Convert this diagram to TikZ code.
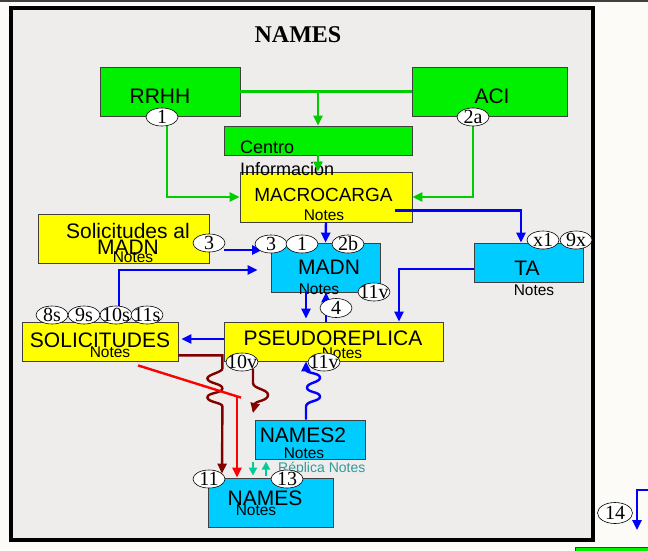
\documentclass[tikz,border=0pt]{standalone}
\usepackage{fontspec}
\setmainfont{Liberation Serif}
\newfontfamily\arialfont{Liberation Sans}
\usetikzlibrary{arrows.meta,calc,shapes.geometric}

\definecolor{pagebg}{RGB}{252,251,247}
\definecolor{framebg}{RGB}{238,237,235}
\definecolor{boxline}{RGB}{64,64,64}
\definecolor{boxgreen}{RGB}{0,240,0}
\definecolor{boxyellow}{RGB}{255,255,0}
\definecolor{boxcyan}{RGB}{0,204,255}
\definecolor{linegreen}{RGB}{0,204,0}
\definecolor{lineblue}{RGB}{0,0,255}
\definecolor{linedark}{RGB}{128,0,0}
\definecolor{linered}{RGB}{255,0,0}
\definecolor{lineteal}{RGB}{0,204,153}
\definecolor{replicatxt}{RGB}{51,153,153}

\tikzset{
  box/.style={draw=boxline, line width=0.8pt, inner sep=0},
  boxtxt/.style={font=\arialfont\fontsize{21}{22}\selectfont, inner sep=0},
  notes/.style={font=\arialfont\fontsize{15.5}{16}\selectfont, inner sep=0},
  numtxt/.style={font=\fontsize{20}{20}\selectfont, inner sep=0},
  numb/.style={ellipse, draw=black, line width=0.6pt, fill=white,
    minimum width=32, minimum height=18, inner sep=0, label={[numtxt]center:#1}},
  glink/.style={draw=linegreen, line width=2.4pt},
  blink/.style={draw=lineblue, line width=2.4pt},
  dlink/.style={draw=linedark, line width=2.4pt},
  rlink/.style={draw=linered, line width=2.4pt},
  tlink/.style={draw=lineteal, line width=2.2pt, -{Triangle[length=8pt,width=8pt]}}
}

\begin{document}
\begin{tikzpicture}[x=1pt, y=-1pt, >={Triangle[length=10pt,width=9pt]}]
    % Page and frame
    \useasboundingbox (0,0) rectangle (648,550);
    \fill[pagebg] (0,0) rectangle (648,550);
    \draw[line width=1.5pt, black!75] (0,0.75) -- (648,0.75);
    \draw[line width=4pt, fill=framebg] (10.5,7.5) rectangle (593,540);
    \begin{scope}
        \clip (0,0) rectangle (648,550);
        \node[box, fill=boxgreen, minimum width=80, minimum height=20, anchor=north west] (lower) at (575,547) {};
    \end{scope}

    % Title
    \node[font=\bfseries\fontsize{24}{24}\selectfont] (title) at (298,35) {NAMES};

    % Draw boxes
    \node[box, fill=boxgreen, minimum width=140, minimum height=49] (rrhh) at (170,91.5) {};
    \node[box, fill=boxgreen, minimum width=155, minimum height=49] (aci) at (489.5,91.5) {};
    \node[box, fill=boxgreen, minimum width=188, minimum height=29] (centro) at (318,140.5) {};
    \node[box, fill=boxyellow, minimum width=172, minimum height=50] (macro) at (326,197) {};
    \node[box, fill=boxyellow, minimum width=171, minimum height=49] (solmadn) at (123.5,238.5) {};
    \node[box, fill=boxcyan, minimum width=109, minimum height=49] (madn) at (325.5,267.5) {};
    \node[box, fill=boxcyan, minimum width=109, minimum height=39] (ta) at (528.5,262.5) {};
    \node[box, fill=boxyellow, minimum width=219, minimum height=39] (pseudo) at (333.5,341.5) {};
    \node[box, fill=boxyellow, minimum width=156, minimum height=39] (solic) at (100,341.5) {};
    \node[box, fill=boxcyan, minimum width=110, minimum height=39] (names2) at (310,439.5) {};
    \node[box, fill=boxcyan, minimum width=125, minimum height=49] (names) at (270.5,502.5) {};

    % Box texts
    \node[boxtxt] (rrhh-t) at (160,96) {RRHH};
    \node[boxtxt] (aci-t) at (492,96) {ACI};
    \node[font=\arialfont\fontsize{18}{22}\selectfont, align=left, anchor=west, inner sep=0] (centro-t) at (240,158) {Centro\\Información};
    \node[font=\arialfont\fontsize{19}{20}\selectfont, inner sep=0] (macro-t) at (323.5,195) {MACROCARGA};
    \node[notes] (macro-n) at (324,215) {Notes};
    \node[font=\arialfont\fontsize{21}{14}\selectfont, align=center, inner sep=0] (solmadn-t) at (128,239) {Solicitudes al\\MADN};
    \node[notes] (solmadn-n) at (133,257) {Notes};
    \node[boxtxt] (madn-t) at (329,267) {MADN};
    \node[notes] (madn-n) at (319,289) {Notes};
    \node[boxtxt] (ta-t) at (527,268) {TA};
    \node[notes] (ta-n) at (534,290) {Notes};
    \node[boxtxt] (pseudo-t) at (333,338) {PSEUDOREPLICA};
    \node[notes] (pseudo-n) at (342,353) {Notes};
    \node[boxtxt] (solic-t) at (100,340) {SOLICITUDES};
    \node[notes] (solic-n) at (110,352) {Notes};
    \node[boxtxt] (names2-t) at (303,435) {NAMES2};
    \node[notes] (names2-n) at (304,453) {Notes};
    \node[boxtxt] (names-t) at (265,498) {NAMES};
    \node[notes] (names-n) at (256,510) {Notes};
    \node[font=\arialfont\fontsize{14}{14}\selectfont, text=replicatxt, anchor=west, inner sep=0] (replica) at (278,469) {Réplica Notes};

    % Numbered tags (placed first, drawn later)
    \path (162,117) coordinate (p1) (473,117) coordinate (p2a)
          (209,243) coordinate (p3a) (271,244) coordinate (p3b)
          (302,244) coordinate (p1b) (348,244) coordinate (p2b)
          (374,292) coordinate (p11v) (336,308) coordinate (p4)
          (543,240) coordinate (px1) (576,240) coordinate (p9x)
          (52,315) coordinate (p8s) (84,315) coordinate (p9s)
          (116,315) coordinate (p10s) (147,315) coordinate (p11s)
          (242,362) coordinate (p10v) (324,362) coordinate (p11vb)
          (209,479) coordinate (p11) (287,479) coordinate (p13)
          (615,513) coordinate (p14);

    % Green edges
    \draw[glink] (rrhh.east) -- (aci.west);
    \draw[glink,->] (centro.north |- rrhh.east) -- (centro.north);
    \draw[glink,->] (centro.south) -- (centro.south |- macro.north);
    \draw[glink,->] ($(p1)+(5,9)$) |- (macro.west);
    \draw[glink,->] ($(p2a)+(0,9)$) |- (macro.east);

    % Blue edges
    \draw[blink,->] ($(p3a)+(15,7)$) -- ($(p3b)+(-9,6)$);
    \draw[blink,->] (macro.south) -- (madn.north);
    \draw[blink,->] ($(p10s)+(3,-9)$) |- ($(madn.west)+(-13,2.5)$);
    \coordinate (downx) at ($(madn.south)+(-19.5,0)$);
    \coordinate (upx) at ($(madn.south)+(0.5,0)$);
    \draw[blink,->,shorten >=3pt] (downx) -- (downx |- pseudo.north);
    \draw[blink,->] (upx |- pseudo.north) -- (upx);
    \coordinate (tastart) at ($(macro.south east)+(-17,-12)$);
    \draw[blink,->] (tastart) -| ($(ta.north)+(-7.5,0)$);
    \draw[blink,->] ($(ta.west)+(0,6.5)$) -| ($(pseudo.north)+(65.5,0)$);
    \draw[blink,->,shorten >=3pt] ($(pseudo.west)+(0,-2.5)$) -- ($(solic.east)+(0,-2.5)$);
    \coordinate (wv) at ($(names2.north)+(-4,0)$);
    \draw[blink,->] (wv) -- ++(0,-13)
        .. controls +(0,-6) and +(0,5) .. ++(14,-10)
        .. controls +(0,-5) and +(0,5) .. ++(-13,-9)
        .. controls +(0,-5) and +(0,5) .. ++(13,-10)
        .. controls +(0,-5) and +(0,4) .. ++(-14,-8)
        -- (wv |- pseudo.south);

    % Dark red and red edges
    \coordinate (drs) at ($(solic.south east)+(0,-6)$);
    \draw[dlink,->,shorten >=4pt] (drs) -- ++(44,0) -- ++(0,13)
        .. controls +(0,4) and +(0,-4) .. ++(-15,10)
        .. controls +(0,5) and +(0,-5) .. ++(15,10)
        .. controls +(0,5) and +(0,-5) .. ++(-15,9)
        .. controls +(0,5) and +(0,-4) .. ++(15,9)
        -- ($(names.north)+(-48.5,0)$);
    \draw[dlink,->] ($(p10v)+(11,7)$) -- ++(0,14)
        .. controls +(0,6) and +(0,-6) .. ++(15,12)
        .. controls +(0,6) and +(0,-3) .. ++(-13,9)
        -- ++(-2,9);
    \coordinate (redstart) at ($(solic.south)+(38,4)$);
    \coordinate (redbend) at ($(names.north)+(-29.5,-80)$);
    \draw[rlink] (redstart) -- (redbend);
    \draw[rlink,->] ($(redbend)+(-4,-1)$) -- ($(names.north)+(-33.5,0)$);

    % Replica arrows
    \draw[tlink] ($(names.north)+(-17.5,-16)$) -- ($(names.north)+(-17.5,-2)$);
    \draw[tlink] ($(names.north)+(-4.5,-2)$) -- ($(names.north)+(-4.5,-16)$);

    % Outside arrow
    \coordinate (edge14) at (648,490);
    \draw[blink,->] (edge14) -| ($(p14)+(22,17)$);

    % Numbered tags
    \node[numb=1] (e1) at (p1) {};
    \node[numb=2a] (e2a) at (p2a) {};
    \node[numb=3] (e3a) at (p3a) {};
    \node[numb=3] (e3b) at (p3b) {};
    \node[numb=1] (e1b) at (p1b) {};
    \node[numb=2b] (e2b) at (p2b) {};
    \node[numb=11v] (e11v) at (p11v) {};
    \node[numb=4, minimum height=19] (e4) at (p4) {};
    \node[numb=x1] (ex1) at (px1) {};
    \node[numb=9x] (e9x) at (p9x) {};
    \node[numb=8s] (e8s) at (p8s) {};
    \node[numb=9s] (e9s) at (p9s) {};
    \node[numb=10s] (e10s) at (p10s) {};
    \node[numb=11s] (e11s) at (p11s) {};
    \node[numb=10v] (e10v) at (p10v) {};
    \node[numb=11v] (e11vb) at (p11vb) {};
    \node[numb=11] (e11) at (p11) {};
    \node[numb=13] (e13) at (p13) {};
    \node[numb=14, minimum width=35, minimum height=21] (e14) at (p14) {};
\end{tikzpicture}
\end{document}
